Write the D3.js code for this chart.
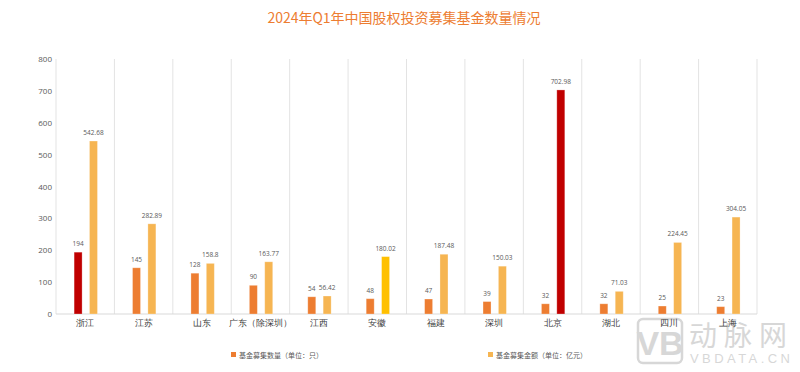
<!DOCTYPE html>
<html>
<head>
<meta charset="utf-8">
<script src="https://cdn.jsdelivr.net/npm/d3@7"></script>
<style>
  body { margin: 0; background: #fff; }
  svg { display: block; font-family: 'Noto Sans CJK SC', 'Noto Sans', sans-serif; }
</style>
</head>
<body>
<script>
(function() {
  'use strict';

  const categories = ['浙江', '江苏', '山东', '广东（除深圳）', '江西', '安徽', '福建', '深圳', '北京', '湖北', '四川', '上海'];
  const counts = [194, 145, 128, 90, 54, 48, 47, 39, 32, 32, 25, 23];
  const amounts = [542.68, 282.89, 158.8, 163.77, 56.42, 180.02, 187.48, 150.03, 702.98, 71.03, 224.45, 304.05];
  const seriesNames = ['基金募集数量（单位：只）', '基金募集金额（单位：亿元）'];
  const yTicks = [0, 100, 200, 300, 400, 500, 600, 700, 800];

  const w = 800;
  const h = 372;
  const left = 56, right = 757, top = 59, bottom = 314;

  const baseColors = ['#ED7D31', '#F6B552'];
  // highlighted bars
  const special = [{ '浙江': '#C00000' }, { '北京': '#C00000', '安徽': '#FFC000' }];

  const svg = d3.select('body').append('svg')
    .attr('width', w)
    .attr('height', h);

  svg.append('text')
    .attr('x', 404)
    .attr('y', 23)
    .attr('text-anchor', 'middle')
    .attr('fill', '#ED7D31')
    .attr('font-size', 14)
    .text('2024年Q1年中国股权投资募集基金数量情况');

  const xScale = d3.scaleBand()
    .domain(categories)
    .range([left, right]);

  const bw = xScale.bandwidth();
  const inner = d3.scaleBand()
    .domain([0, 1])
    .range([bw * 0.31, bw * 0.71])
    .paddingInner(0.48);

  const yScale = d3.scaleLinear()
    .domain([0, 800])
    .range([bottom, top]);

  // watermark (drawn first so chart text sits on top)
  const wm = svg.append('g').attr('opacity', 0.45);
  wm.append('rect')
    .attr('x', 638).attr('y', 319)
    .attr('width', 44).attr('height', 44)
    .attr('rx', 5)
    .attr('fill', 'none')
    .attr('stroke', '#a8a8a8')
    .attr('stroke-width', 2.5);
  wm.append('text')
    .attr('x', 660).attr('y', 355)
    .attr('text-anchor', 'middle')
    .attr('fill', '#a8a8a8')
    .attr('font-size', 34)
    .attr('font-weight', 'bold')
    .attr('font-family', "'Liberation Sans Narrow', 'Liberation Sans', sans-serif")
    .text('VB');
  wm.append('text')
    .attr('x', 689).attr('y', 346)
    .attr('fill', '#a8a8a8')
    .attr('font-size', 28)
    .attr('textLength', 98)
    .text('动脉网');
  wm.append('text')
    .attr('x', 690).attr('y', 363)
    .attr('fill', '#a8a8a8')
    .attr('font-size', 13)
    .attr('textLength', 100)
    .attr('font-family', "'Liberation Sans', sans-serif")
    .text('VBDATA.CN');

  // vertical grid lines between categories
  const bounds = categories.map(c => xScale(c)).concat([right]);
  svg.append('g').selectAll('line')
    .data(bounds)
    .enter()
    .append('line')
    .attr('x1', d => d).attr('x2', d => d)
    .attr('y1', top).attr('y2', bottom)
    .attr('stroke', '#e3e3e3')
    .attr('stroke-width', 1);

  svg.append('line')
    .attr('x1', left).attr('x2', right)
    .attr('y1', bottom).attr('y2', bottom)
    .attr('stroke', '#d9d9d9');

  // y axis
  const yAxis = d3.axisLeft(yScale).tickValues(yTicks).tickSize(0).tickPadding(4);
  const gy = svg.append('g')
    .attr('transform', 'translate(' + left + ',0)')
    .call(yAxis);
  gy.select('.domain').remove();
  gy.selectAll('text').attr('fill', '#595959').attr('font-size', 8)
    .attr('font-family', "'Open Sans', sans-serif");

  // x axis
  const xAxis = d3.axisBottom(xScale).tickSize(0).tickPadding(6);
  const gx = svg.append('g')
    .attr('transform', 'translate(0,' + bottom + ')')
    .call(xAxis);
  gx.select('.domain').remove();
  gx.selectAll('text').attr('fill', '#404040').attr('font-size', 9);

  const series = [counts, amounts];
  series.forEach(function(vals, s) {
    const g = svg.append('g');
    const data = categories.map((c, i) => ({ c: c, v: vals[i] }));
    g.selectAll('rect')
      .data(data)
      .enter()
      .append('rect')
      .attr('x', d => xScale(d.c) + inner(s))
      .attr('y', d => yScale(d.v))
      .attr('width', inner.bandwidth())
      .attr('height', d => bottom - yScale(d.v))
      .attr('fill', d => special[s][d.c] || baseColors[s])
      .attr('stroke', 'rgba(255,255,255,0.35)')
      .attr('stroke-width', 0.8);

    g.selectAll('text')
      .data(data)
      .enter()
      .append('text')
      .attr('x', d => xScale(d.c) + inner(s) + inner.bandwidth() / 2)
      .attr('y', d => yScale(d.v) - 6)
      .attr('text-anchor', 'middle')
      .attr('fill', '#595959')
      .attr('font-size', 6.5)
      .attr('font-family', "'Open Sans', sans-serif")
      .text(d => d.v);
  });

  // legend
  const legendX = [231, 488];
  seriesNames.forEach(function(name, s) {
    svg.append('rect')
      .attr('x', legendX[s]).attr('y', 352)
      .attr('width', 5).attr('height', 5)
      .attr('fill', baseColors[s]);
    svg.append('text')
      .attr('x', legendX[s] + 8).attr('y', 357.5)
      .attr('fill', '#595959')
      .attr('font-size', 7)
      .text(name);
  });
})();
</script>
</body>
</html>
